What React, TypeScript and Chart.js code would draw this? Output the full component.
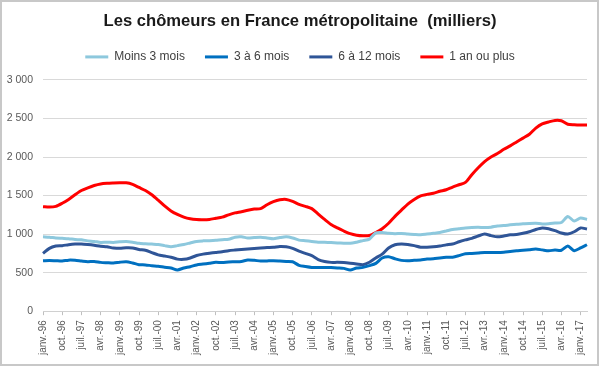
import { useEffect, useRef } from "react";
import { Chart, registerables } from "chart.js";

Chart.register(...registerables);

// Quarterly categories, janv.-96 … avr.-17
const YEARS = ["96","97","98","99","00","01","02","03","04","05","06","07","08","09","10","11","12","13","14","15","16","17"];
const MONTHS = ["janv.", "avr.", "juil.", "oct."];
const QUARTERS: string[] = [];
YEARS.forEach((y) => MONTHS.forEach((m) => QUARTERS.push(`${m}-${y}`)));
const CATEGORIES = QUARTERS.slice(0, 86);

const Y_TICKS = [0, 500, 1000, 1500, 2000, 2500, 3000];
const Y_TICK_LABELS = ["0", "500", "1 000", "1 500", "2 000", "2 500", "3 000"];

const SERIES_NAMES = ["Moins 3 mois", "3 à 6 mois", "6 à 12 mois", "1 an ou plus"];

const MOINS_3_MOIS = [
  965, 960, 950, 945, 940, 930, 925, 912, 905, 892,
  895, 892, 900, 905, 895, 880, 875, 870, 865, 850,
  835, 850, 865, 885, 905, 912, 915, 920, 928, 932,
  960, 965, 950, 955, 958, 950, 940, 955, 965, 950,
  922, 914, 905, 895, 893, 890, 885, 882, 880, 895,
  915, 935, 1015, 1020, 1010, 1005, 1008, 1000, 995, 991,
  1000, 1010, 1021, 1040, 1060, 1070, 1080, 1086, 1088, 1085,
  1090, 1105, 1110, 1120, 1128, 1133, 1138, 1140, 1132, 1135,
  1143, 1150, 1228, 1170, 1210, 1190,
];

const DE_3_A_6_MOIS = [
  654, 658, 654, 650, 662, 660, 650, 641, 645, 633,
  628, 624, 635, 641, 625, 603, 600, 590, 582, 570,
  560, 535, 560, 577, 600, 611, 622, 633, 630, 638,
  641, 645, 665, 660, 650, 652, 654, 650, 645, 641,
  595, 580, 568, 565, 568, 565, 560, 555, 534, 560,
  568, 590, 620, 690, 706, 680, 659, 654, 660, 665,
  676, 680, 690, 698, 700, 720, 745, 749, 755, 762,
  760, 760, 765, 775, 784, 790, 798, 806, 795, 784,
  793, 790, 845, 784, 820, 862,
];

const DE_6_A_12_MOIS = [
  749, 815, 845, 850, 862, 870, 872, 865, 855, 842,
  835, 820, 815, 822, 820, 800, 790, 760, 730, 715,
  700, 675, 672, 690, 722, 740, 752, 762, 772, 785,
  793, 800, 806, 812, 819, 825, 828, 840, 835, 815,
  778, 750, 720, 670, 645, 633, 633, 630, 622, 612,
  603, 635, 690, 740, 820, 862, 871, 865, 850, 830,
  830, 835, 845, 860, 872, 900, 925, 945, 975, 1000,
  980, 965, 975, 990, 995, 1010, 1030, 1060, 1080, 1070,
  1045, 1015, 1000, 1030, 1080, 1065,
];

const UN_AN_OU_PLUS = [
  1355, 1350, 1360, 1400, 1450, 1510, 1565, 1600, 1630, 1650,
  1658, 1662, 1665, 1665, 1645, 1605, 1565, 1510, 1440, 1365,
  1300, 1255, 1220, 1198, 1188, 1186, 1190, 1205, 1220, 1250,
  1275, 1290, 1310, 1325, 1330, 1380, 1420, 1445, 1450, 1425,
  1385, 1360, 1330, 1260, 1190, 1125, 1080, 1040, 1005, 985,
  978, 982, 1020, 1070, 1140, 1230, 1310, 1390, 1450, 1497,
  1515, 1530, 1555, 1575, 1610, 1640, 1670, 1770, 1860, 1940,
  2000, 2045, 2100, 2145, 2195, 2245, 2295, 2375, 2430, 2455,
  2475, 2470, 2425, 2418, 2415, 2415,
];

const COLORS = ["#8dc8dd", "#0070c0", "#2f5597", "#ff0000"];

const framePlugin = {
  id: "frame",
  beforeInit(chart: any) {
    const legend = chart.legend;
    if (legend) {
      const origFit = legend.fit;
      legend.fit = function () {
        origFit.call(this);
        this.height += 7;
      };
    }
  },
  afterDraw(chart: any) {
    const ctx = chart.ctx;
    ctx.save();
    ctx.strokeStyle = "#c8c8c8";
    ctx.lineWidth = 2;
    ctx.strokeRect(1, 1, chart.width - 3, chart.height - 3);
    ctx.restore();
  },
};

export default function App() {
  const ref = useRef<HTMLCanvasElement | null>(null);

  useEffect(() => {
    document.body.style.margin = "0";
    const canvas = ref.current;
    if (!canvas) return;
    const series = [MOINS_3_MOIS, DE_3_A_6_MOIS, DE_6_A_12_MOIS, UN_AN_OU_PLUS];
    const chart = new Chart(canvas, {
      type: "line",
      data: {
        labels: CATEGORIES,
        datasets: series.map((d, i) => ({
          label: SERIES_NAMES[i],
          data: d,
          borderColor: COLORS[i],
          backgroundColor: COLORS[i],
          borderWidth: 3,
          pointRadius: 0,
          tension: 0.25,
          fill: false,
        })),
      },
      options: {
        responsive: false,
        animation: false,
        devicePixelRatio: 1,
        layout: { padding: { left: 0, right: 0, top: 0, bottom: 7 } },
        plugins: {
          title: {
            display: true,
            text: "Les chômeurs en France métropolitaine  (milliers)",
            color: "#1a1a1a",
            font: { family: '"Liberation Sans", sans-serif', size: 16.6, weight: "bold" },
            padding: { top: 11, bottom: 0 },
          },
          legend: {
            display: true,
            position: "top",
            labels: {
              boxWidth: 23,
              boxHeight: 3,
              padding: 20,
              color: "#404040",
              font: { family: '"Liberation Sans", sans-serif', size: 12 },
              generateLabels: (c: any) =>
                (Chart.defaults.plugins.legend.labels.generateLabels as any)(c).map((l: any) => ({ ...l, lineWidth: 0 })),
            },
          },
          tooltip: { enabled: false },
        },
        scales: {
          x: {
            type: "category",
            offset: false,
            afterBuildTicks: (scale: any) => {
              scale.ticks = scale.ticks.filter((t: any) => t.value % 3 === 0);
            },
            afterFit: (scale: any) => {
              scale.paddingRight = 13;
            },
            grid: { drawOnChartArea: false, drawTicks: true, tickLength: 4, color: "#bfbfbf" },
            border: { display: true, color: "#d0d0d0" },
            ticks: {
              autoSkip: false,
              maxRotation: 90,
              minRotation: 90,
              padding: 5,
              color: "#595959",
              font: { family: '"Liberation Sans", sans-serif', size: 10 },
            },
          },
          y: {
            min: 0,
            max: 3000,
            afterBuildTicks: (scale: any) => {
              scale.ticks = Y_TICKS.map((v) => ({ value: v }));
            },
            afterFit: (scale: any) => {
              scale.width = 43;
            },
            grid: { color: "#d9d9d9", drawTicks: false },
            border: { display: false },
            ticks: {
              padding: 10,
              color: "#595959",
              font: { family: '"Liberation Sans", sans-serif', size: 10.5 },
              callback: (v: any) => {
                const idx = Y_TICKS.indexOf(Number(v));
                return idx >= 0 ? Y_TICK_LABELS[idx] : "";
              },
            },
          },
        },
      },
      plugins: [framePlugin],
    });
    return () => chart.destroy();
  }, []);

  return (
    <div style={{ position: "fixed", left: 0, top: 0, width: 600, height: 367, background: "#fff" }}>
      <canvas ref={ref} width={600} height={367} style={{ display: "block" }} />
    </div>
  );
}
